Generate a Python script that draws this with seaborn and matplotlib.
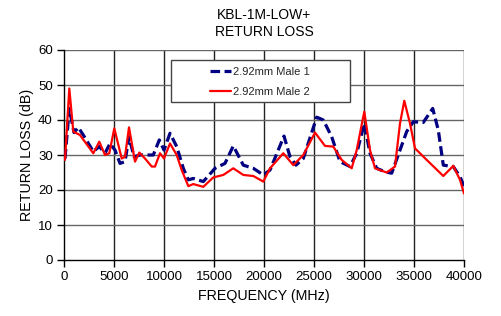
import matplotlib
matplotlib.use("Agg")
import matplotlib.pyplot as plt
from matplotlib.patches import Rectangle
import seaborn as sns
import pandas as pd

freq1 = [100, 530, 1000, 1430, 1930, 2930, 3530, 4100, 4600, 5100, 5600, 6100, 6500, 7000, 7600,
         8930, 9530, 10000, 10600, 11270, 11930, 12430, 12930, 13930, 15100, 16100, 16930, 17930,
         18930, 19930, 20600, 22000, 22600, 23200, 23930, 25270, 25930, 26770, 27600, 28600, 29270,
         30030, 30600, 31270, 32100, 32770, 33600, 34270, 34930, 35930, 36870, 37430, 37930, 38930,
         39600, 40000]
male1 = [29, 43.3, 36.4, 37.9, 35.7, 31, 32.4, 30.5, 33.3, 31.4, 27.6, 28.1, 35.2, 29.5, 30,
         30, 34.3, 31.4, 36.2, 32.4, 26.2, 22.9, 23.3, 22.4, 26.2, 27.6, 32.6, 27.1,
         26.2, 24.3, 25.7, 35.4, 29.5, 27.1, 29, 40.8, 40, 35.2, 28.1, 26.7, 30.5,
         39, 30.5, 26.2, 25.2, 24.8, 31.4, 36.7, 39.5, 39.3, 43.3, 37.1, 27.1, 26.7,
         23.8, 21.1]

freq2 = [100, 530, 930, 1600, 2930, 3530, 4100, 4530, 5030, 5770, 6100, 6500, 7100, 7530, 8100,
         8770, 9100, 9600, 10000, 10600, 11270, 11770, 12430, 12930, 13930, 14930, 15930, 16930,
         17930, 18930, 19930, 20600, 21930, 22930, 23930, 25100, 26100, 26930, 27770, 28770, 29270,
         30030, 30600, 31100, 32270, 33100, 33600, 34030, 34600, 35100, 36270, 37930, 38930, 39600,
         40000]
male2 = [28.6, 49, 36.7, 35.7, 30.5, 33.8, 30, 30.5, 37.6, 29, 29.5, 37.9, 28.1, 30.7, 29,
         26.7, 26.7, 30.5, 29, 33.3, 30, 25.7, 21.1, 21.7, 20.9, 23.6, 24.3, 26.2,
         24.3, 24, 22.4, 26.2, 30.5, 27.1, 30, 36.4, 32.6, 32.4, 28.6, 26.2, 31.4,
         42.4, 31.4, 26.2, 25, 26.7, 39, 45.5, 39, 31.9, 28.6, 24, 26.9, 22.9,
         19]

labels = ["2.92mm Male 1", "2.92mm Male 2"]
title = "KBL-1M-LOW+\nRETURN LOSS"

df1 = pd.DataFrame({"f": freq1, "rl": male1})
df2 = pd.DataFrame({"f": freq2, "rl": male2})

sns.set_theme(style="white")
plt.rcParams['font.family'] = ['Liberation Sans', 'DejaVu Sans']

fig = plt.figure(figsize=(5.01, 3.16), dpi=100)
ax = fig.add_axes([64/501, 56/316, 400/501, 210/316])

ax.set_xlim(0, 40000)
ax.set_ylim(0, 60)
ax.set_xticks(range(0, 40001, 5000))
ax.set_yticks(range(0, 61, 10))
for x in range(5000, 40001, 5000):
    ax.axvline(x, color="#222222", lw=1.0, zorder=1)
for y in range(10, 61, 10):
    ax.axhline(y, color="#666666", lw=1.0, zorder=1)

sns.lineplot(data=df1, x="f", y="rl", ax=ax, color="#000080", lw=2.3,
             label=labels[0], zorder=3)
sns.lineplot(data=df2, x="f", y="rl", ax=ax, color="#ff0000", lw=1.6,
             label=labels[1], zorder=4)
blue_line = ax.lines[-2]
blue_line.set_dashes([3, 1.4])

for s in ["top", "right"]:
    ax.spines[s].set_visible(False)
for s in ["left", "bottom"]:
    ax.spines[s].set_color("black")
    ax.spines[s].set_linewidth(1.0)

ax.tick_params(axis="both", direction="out", length=5, width=1, color="black",
               labelsize=9.5, labelcolor="black", bottom=True, left=True, pad=3)
ax.set_xlabel("FREQUENCY (MHz)", fontsize=10.3, color="black", labelpad=4)
ax.set_ylabel("RETURN LOSS (dB)", fontsize=10.3, color="black", labelpad=3)
ax.set_title(title, fontsize=10, color="black", pad=10, linespacing=1.25)

# legend frame
rect = Rectangle((107/400, 158/210), 179/400, 42/210, transform=ax.transAxes,
                 facecolor="white", edgecolor="#444444", lw=1.0, zorder=5)
ax.add_patch(rect)
leg = ax.legend(loc="upper left", bbox_to_anchor=(140/400, 199/210), fontsize=8,
                frameon=False, handlelength=1.9, handletextpad=0.2,
                borderpad=0, labelspacing=0.95)
leg.set_zorder(6)

fig.savefig("out.png", dpi=100)
